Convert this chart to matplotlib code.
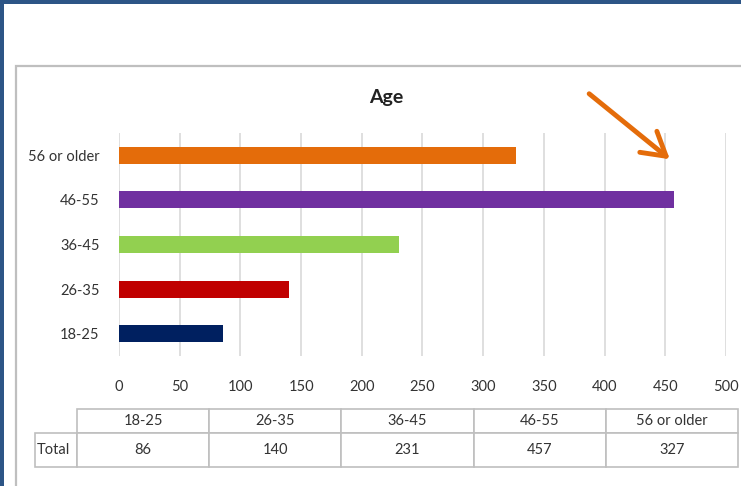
import matplotlib.pyplot as plt
from matplotlib.patches import Rectangle, FancyArrowPatch
from matplotlib.table import Table
import numpy as np

plt.rcParams['font.family'] = ['Lato', 'DejaVu Sans']

# age groups and counts
categories = ['18-25', '26-35', '36-45', '46-55', '56 or older']
totals = [86, 140, 231, 457, 327]
bar_colors = ['#002060', '#C00000', '#92D050', '#7030A0', '#E46C0A']
x_ticks = np.arange(0, 501, 50)

W, H = 741, 486
fig = plt.figure(figsize=(W / 100, H / 100), dpi=100)
fig.patch.set_facecolor('white')


def box(x0, y0, x1, y1):
    # pixel box (top-left origin) -> figure fraction rect
    return [x0 / W, 1 - y1 / H, (x1 - x0) / W, (y1 - y0) / H]


# dark frame on top and left, light chart border
for r in (box(0, 0, W, 4), box(0, 0, 4, H)):
    fig.patches.append(Rectangle(r[:2], r[2], r[3], transform=fig.transFigure,
                                 facecolor='#2D5586', edgecolor='none', zorder=-2))
fig.patches.append(Rectangle((16 / W, -0.02), 1, 1 - 66 / H + 0.02, transform=fig.transFigure,
                             facecolor='white', edgecolor='#BFBFBF', lw=1.6, zorder=-1))

ax = fig.add_axes(box(119, 133, 726, 356))
y = np.arange(len(categories))
ax.barh(y, totals, height=0.38, color=bar_colors, zorder=3)
ax.set_xlim(0, 500)
ax.set_ylim(-0.5, len(categories) - 0.5)
ax.set_xticks(x_ticks)
ax.set_yticks(y)
ax.set_yticklabels(categories)
ax.grid(axis='x', color='#D9D9D9', lw=1.2, zorder=0)
for s in ax.spines.values():
    s.set_visible(False)
ax.tick_params(length=0, labelsize=10.5, colors='#333333')
ax.tick_params(axis='x', pad=17)
ax.tick_params(axis='y', pad=14)
ax.set_facecolor('none')

fig.text(386 / W, 1 - 97 / H, 'Age', ha='center', va='center',
         fontsize=14, fontweight='bold', color='#222222')

# data table under the chart
tax = fig.add_axes(box(35, 409, 738, 467))
tax.axis('off')
tbl = Table(tax, bbox=[0, 0, 1, 1])
label_w, col_w = 42, 132.2
row_h = [24, 34]
for j, (cat, v) in enumerate(zip(categories, totals)):
    tbl.add_cell(0, j + 1, col_w, row_h[0], text=cat, loc='center')
    tbl.add_cell(1, j + 1, col_w, row_h[1], text=str(v), loc='center')
tbl.add_cell(1, 0, label_w, row_h[1], text='Total', loc='left')
tbl.auto_set_font_size(False)
tbl.set_fontsize(10.5)
for cell in tbl.get_celld().values():
    cell.set_edgecolor('#BFBFBF')
    cell.set_linewidth(1.2)
    cell.PAD = 0.05
    cell.get_text().set_color('#333333')
tax.add_table(tbl)

# pointer arrow
fig.add_artist(FancyArrowPatch(
    (587 / W, 1 - 92 / H), (672 / W, 1 - 161 / H), transform=fig.transFigure,
    arrowstyle='->,head_length=11,head_width=6.5', color='#E46C0A', lw=3.5,
    mutation_scale=1.5, capstyle='round', joinstyle='round', zorder=10))

fig.savefig('out.png', dpi=100)
